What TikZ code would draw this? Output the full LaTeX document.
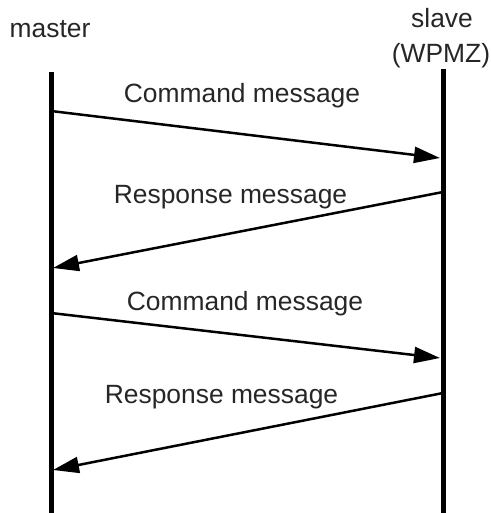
\documentclass[tikz,border=0pt]{standalone}
\usepackage{fontspec}
\setmainfont{Liberation Sans}
\usetikzlibrary{arrows.meta}
\tikzset{
  lbl/.style={anchor=base, inner sep=0pt, font=\fontsize{26.4pt}{30pt}\selectfont, text=black!85},
  life/.style={line width=5pt},
  msg/.style={line width=2.5pt, -{Triangle[length=26pt,width=16pt]}}
}
\begin{document}
\begin{tikzpicture}[x=1pt,y=-1pt]
\useasboundingbox (0,0) rectangle (490,513);
\node[lbl] (master) at (50,38) {master};
\node[lbl] (slave) at (442,28) {slave};
\node[lbl] (wpmz) at (441,63) {(WPMZ)};
\coordinate (mtop) at (51,72);
\coordinate (mbot) at (51,513);
\coordinate (stop) at (443,69);
\coordinate (sbot) at (443,513);
\draw[life] (mtop) -- (mbot);
\draw[life] (stop) -- (sbot);
\coordinate (a1s) at (51,111);
\coordinate (a1e) at (440,158);
\coordinate (a2s) at (443,192);
\coordinate (a2e) at (53,268);
\coordinate (a3s) at (51,313);
\coordinate (a3e) at (440,358);
\coordinate (a4s) at (443,393);
\coordinate (a4e) at (53,470);
\draw[msg] (a1s) -- (a1e);
\draw[msg] (a2s) -- (a2e);
\draw[msg] (a3s) -- (a3e);
\draw[msg] (a4s) -- (a4e);
\node[lbl] (c1) at (242,103) {Command message};
\node[lbl] (r1) at (230.5,203) {Response message};
\node[lbl] (c2) at (245,310) {Command message};
\node[lbl] (r2) at (221.5,403) {Response message};
\end{tikzpicture}
\end{document}
